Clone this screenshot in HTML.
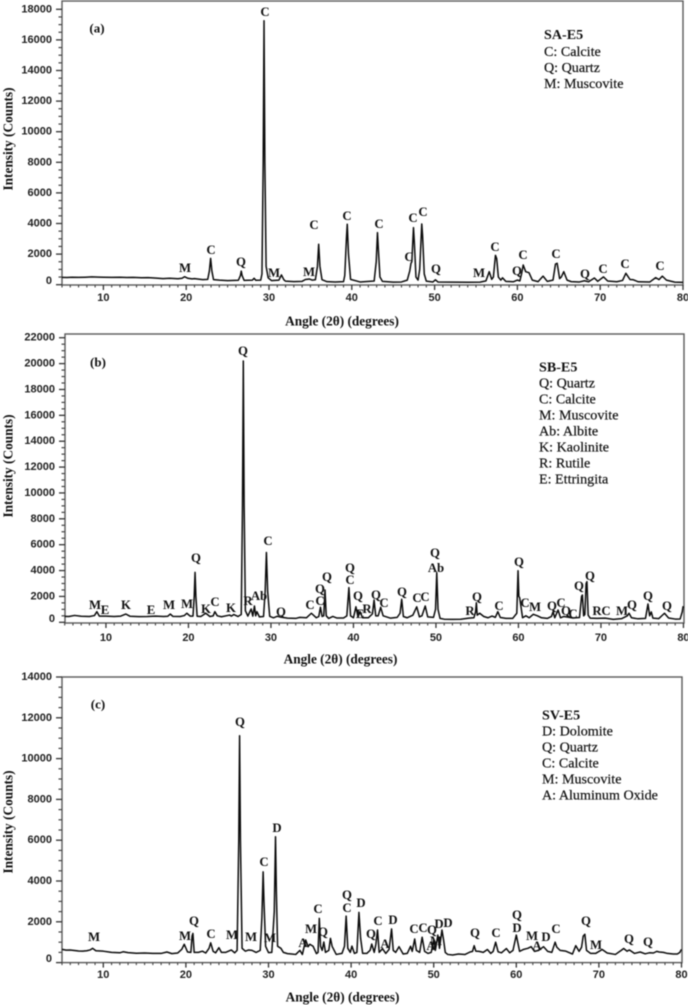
<!DOCTYPE html>
<html lang="en">
<head>
<meta charset="utf-8">
<title>XRD patterns SA-E5, SB-E5, SV-E5</title>
<style>
html,body{margin:0;padding:0;background:#fff;}
#chart{display:block;width:688px;height:1005px;filter:blur(0.4px);}
.pk{font:bold 12.8px "Liberation Serif",serif;fill:#111;text-anchor:middle;dominant-baseline:central;}
.lg{font:14.1px "Liberation Serif",serif;fill:#111;stroke:#111;stroke-width:.2;dominant-baseline:central;}
.lgt{font:bold 14.1px "Liberation Serif",serif;fill:#111;dominant-baseline:central;}
.pl{font:bold 13px "Liberation Serif",serif;fill:#111;text-anchor:middle;dominant-baseline:central;}
.tick{font:bold 11px "Liberation Sans",sans-serif;fill:#222;dominant-baseline:central;}
.axt{font:bold 13.3px "Liberation Serif",serif;fill:#111;text-anchor:middle;dominant-baseline:central;}
</style>
</head>
<body>
<svg id="chart" xmlns="http://www.w3.org/2000/svg" width="688" height="1005" viewBox="0 0 688 1005">
<g id="panel-a"></g>
<g id="panel-b"></g>
<g id="panel-c"></g>

<g>
<text class="pl" x="97" y="28">(a)</text>
<text class="lgt" x="544" y="35">SA-E5</text>
<text class="lg" x="544" y="52">C: Calcite</text>
<text class="lg" x="544" y="68">Q: Quartz</text>
<text class="lg" x="544" y="84">M: Muscovite</text>
<text class="pk" x="185" y="268">M</text>
<text class="pk" x="211" y="250">C</text>
<text class="pk" x="241" y="262">Q</text>
<text class="pk" x="265" y="12">C</text>
<text class="pk" x="274" y="273">M</text>
<text class="pk" x="309" y="272">M</text>
<text class="pk" x="314" y="225">C</text>
<text class="pk" x="347" y="216">C</text>
<text class="pk" x="379" y="224">C</text>
<text class="pk" x="409" y="257">C</text>
<text class="pk" x="413" y="218">C</text>
<text class="pk" x="423" y="212">C</text>
<text class="pk" x="436" y="269">Q</text>
<text class="pk" x="479" y="273">M</text>
<text class="pk" x="495" y="247">C</text>
<text class="pk" x="517" y="271">Q</text>
<text class="pk" x="523" y="255">C</text>
<text class="pk" x="556" y="254">C</text>
<text class="pk" x="585" y="274">Q</text>
<text class="pk" x="603" y="269">C</text>
<text class="pk" x="625" y="264">C</text>
<text class="pk" x="660" y="266">C</text>
</g>

<g>
<text class="pl" x="98" y="362">(b)</text>
<text class="lgt" x="539" y="367.5">SB-E5</text>
<text class="lg" x="539" y="383.5">Q: Quartz</text>
<text class="lg" x="539" y="399.5">C: Calcite</text>
<text class="lg" x="539" y="415.5">M: Muscovite</text>
<text class="lg" x="539" y="431.5">Ab: Albite</text>
<text class="lg" x="539" y="447.5">K: Kaolinite</text>
<text class="lg" x="539" y="463.5">R: Rutile</text>
<text class="lg" x="539" y="479.5">E: Ettringita</text>
<text class="pk" x="95" y="605">M</text>
<text class="pk" x="105" y="610">E</text>
<text class="pk" x="126" y="605">K</text>
<text class="pk" x="151" y="610">E</text>
<text class="pk" x="169" y="605">M</text>
<text class="pk" x="187" y="604">M</text>
<text class="pk" x="196" y="558">Q</text>
<text class="pk" x="206" y="609">K</text>
<text class="pk" x="215" y="602">C</text>
<text class="pk" x="231" y="608">K</text>
<text class="pk" x="243" y="351">Q</text>
<text class="pk" x="248" y="601">R</text>
<text class="pk" x="259" y="596">Ab</text>
<text class="pk" x="268" y="541">C</text>
<text class="pk" x="281" y="612">Q</text>
<text class="pk" x="310" y="605">C</text>
<text class="pk" x="320" y="589">Q</text>
<text class="pk" x="320" y="601">C</text>
<text class="pk" x="327" y="577">Q</text>
<text class="pk" x="350" y="568">Q</text>
<text class="pk" x="350" y="580">C</text>
<text class="pk" x="358" y="596">Q</text>
<text class="pk" x="360" y="614">E</text>
<text class="pk" x="367" y="609">R</text>
<text class="pk" x="376" y="595">Q</text>
<text class="pk" x="384" y="603">C</text>
<text class="pk" x="402" y="592">Q</text>
<text class="pk" x="417" y="598">C</text>
<text class="pk" x="425" y="597">C</text>
<text class="pk" x="435" y="553">Q</text>
<text class="pk" x="436" y="568">Ab</text>
<text class="pk" x="470" y="611">R</text>
<text class="pk" x="477" y="597">Q</text>
<text class="pk" x="499" y="606">C</text>
<text class="pk" x="519" y="562">Q</text>
<text class="pk" x="525" y="603">C</text>
<text class="pk" x="535" y="607">M</text>
<text class="pk" x="552" y="606">Q</text>
<text class="pk" x="561" y="603">C</text>
<text class="pk" x="566" y="611">Q</text>
<text class="pk" x="573" y="614">C</text>
<text class="pk" x="579" y="586">Q</text>
<text class="pk" x="590" y="576">Q</text>
<text class="pk" x="597" y="611">R</text>
<text class="pk" x="606" y="611">C</text>
<text class="pk" x="622" y="611">M</text>
<text class="pk" x="632" y="605">Q</text>
<text class="pk" x="648" y="596">Q</text>
<text class="pk" x="667" y="606">Q</text>
</g>

<g>
<text class="pl" x="98" y="704">(c)</text>
<text class="lgt" x="542" y="715.5">SV-E5</text>
<text class="lg" x="542" y="731.5">D: Dolomite</text>
<text class="lg" x="542" y="747.5">Q: Quartz</text>
<text class="lg" x="542" y="763.5">C: Calcite</text>
<text class="lg" x="542" y="779.5">M: Muscovite</text>
<text class="lg" x="542" y="795.5">A: Aluminum Oxide</text>
<text class="pk" x="94" y="937">M</text>
<text class="pk" x="185" y="936">M</text>
<text class="pk" x="194" y="921">Q</text>
<text class="pk" x="211" y="934">C</text>
<text class="pk" x="232" y="935">M</text>
<text class="pk" x="240" y="722">Q</text>
<text class="pk" x="251" y="937">M</text>
<text class="pk" x="264" y="862">C</text>
<text class="pk" x="270" y="938">M</text>
<text class="pk" x="277" y="828">D</text>
<text class="pk" x="303" y="943">A</text>
<text class="pk" x="311" y="929">M</text>
<text class="pk" x="318" y="909">C</text>
<text class="pk" x="323" y="932">Q</text>
<text class="pk" x="347" y="895">Q</text>
<text class="pk" x="347" y="908">C</text>
<text class="pk" x="361" y="903">D</text>
<text class="pk" x="371" y="934">Q</text>
<text class="pk" x="378" y="921">C</text>
<text class="pk" x="385" y="944">A</text>
<text class="pk" x="393" y="920">D</text>
<text class="pk" x="414" y="929">C</text>
<text class="pk" x="423" y="928">C</text>
<text class="pk" x="432" y="930">Q</text>
<text class="pk" x="431" y="946">A</text>
<text class="pk" x="436" y="941">M</text>
<text class="pk" x="439" y="924">D</text>
<text class="pk" x="448" y="923">D</text>
<text class="pk" x="475" y="933">Q</text>
<text class="pk" x="496" y="933">C</text>
<text class="pk" x="517" y="915">Q</text>
<text class="pk" x="517" y="928">D</text>
<text class="pk" x="532" y="936">M</text>
<text class="pk" x="537" y="946">A</text>
<text class="pk" x="546" y="937">D</text>
<text class="pk" x="556" y="929">C</text>
<text class="pk" x="586" y="921">Q</text>
<text class="pk" x="596" y="945">M</text>
<text class="pk" x="629" y="939">Q</text>
<text class="pk" x="648" y="942">Q</text>
</g>
</svg>

<script>
const xTickLabels = [10, 20, 30, 40, 50, 60, 70, 80];
const xMinorTicks = [5,6,7,8,9,11,12,13,14,15,16,17,18,19,21,22,23,24,25,26,27,28,29,31,32,33,34,35,36,37,38,39,41,42,43,44,45,46,47,48,49,51,52,53,54,55,56,57,58,59,61,62,63,64,65,66,67,68,69,71,72,73,74,75,76,77,78,79];
const yTicksA = [0,2000,4000,6000,8000,10000,12000,14000,16000,18000];
const yTicksB = [0,2000,4000,6000,8000,10000,12000,14000,16000,18000,20000,22000];
const yTicksC = [0,2000,4000,6000,8000,10000,12000,14000];

const anglesA = [
5,5.6,6.2,7,7.8,8.6,9.4,10,
11,12,12.8,13.6,14.6,15.4,16.4,17.2,
18,19,19.5,19.8,20.2,20.7,21,22,
22.6,22.8,22.95,23.1,23.3,24,25,26.3,
26.55,26.65,26.75,27,28,28.2,28.4,29,
29.15,29.3,29.4,29.5,29.65,29.9,30.3,31.2,
31.5,31.8,32,33,34,34.4,34.9,35.2,
35.6,35.85,36,36.15,36.4,37,38,39,
39.15,39.35,39.45,39.6,39.85,41,42.7,42.95,
43.1,43.2,43.4,43.7,45,46,46.7,47,
47.15,47.25,47.45,47.55,47.75,48,48.2,48.45,
48.55,48.75,49,49.8,50.1,50.4,52,54,
55.5,56.2,56.6,56.9,57.1,57.35,57.5,57.7,
58,58.2,58.6,59.5,60,60.3,60.5,60.7,
61,61.4,61.8,62.5,63.1,63.6,64.3,64.6,
64.8,65.1,65.3,65.6,66,66.5,67.5,68.1,
68.6,69.3,69.7,70.4,70.9,72,72.7,73.1,
73.6,74,74.6,76,76.7,77.1,77.5,78,
79,80];
const countsA = [
480,470,490,480,490,510,495,490,
480,490,470,480,450,460,430,400,
420,390,420,520,420,380,400,330,
350,900,1720,900,330,300,270,290,
600,890,600,280,300,420,290,300,
700,8000,17250,8000,1200,450,270,300,
640,320,230,200,220,340,370,300,
320,1200,2640,1200,330,200,180,200,
600,3000,3950,2000,350,180,240,1500,
3400,2400,500,220,170,180,300,900,
1400,1500,3730,2800,500,300,1000,3970,
3200,700,230,180,320,180,170,160,
170,250,850,350,500,1920,1700,500,
300,450,220,190,300,250,700,1290,
850,785,300,200,560,220,300,1350,
1400,400,500,850,300,200,180,260,
190,440,220,510,240,190,280,745,
340,320,190,180,465,330,560,300,
170,150];

const anglesB = [
5,5.5,6.2,7,8,8.6,8.9,9.2,
10,11,11.8,12.4,12.9,14,15,16,
17,17.5,17.8,18.1,19,19.5,19.8,20.2,
20.55,20.7,20.8,20.9,21.05,21.5,22.1,22.6,
23,23.2,23.5,24,25,25.2,25.5,26,
26.4,26.55,26.65,26.75,26.9,27.2,27.6,27.8,
28,28.15,28.3,28.6,29.1,29.3,29.45,29.6,
29.85,30.3,30.8,31.2,32,33,33.5,34.3,
34.9,35.5,35.8,36,36.2,36.4,36.55,36.7,
37,37.5,38,38.8,39.2,39.45,39.65,40,
40.3,40.55,40.8,41.1,41.8,42.3,42.5,42.7,
43,43.3,43.6,44.5,45.3,45.65,45.85,46.05,
46.5,47.2,47.67,48,48.3,48.7,49,49.7,
49.95,50.1,50.25,50.5,51,52,53,54,
54.6,54.8,54.9,55,55.3,55.8,56.3,56.8,
57.2,57.5,57.8,58.5,59.3,59.8,59.95,60.05,
60.15,60.5,60.9,61.3,61.8,62.3,62.8,63.5,
64,64.2,64.4,64.8,65.1,65.5,66,66.6,
67.4,67.65,67.75,67.9,68.05,68.2,68.3,68.45,
68.7,69.5,70.5,71.5,72.5,73.2,73.4,73.7,
74.5,75.4,75.7,75.9,76.1,76.3,77,77.7,
78.2,79,79.6,79.85,79.95,80];
const countsB = [
460,450,530,470,450,520,820,480,
480,450,480,640,470,440,450,480,
450,470,640,460,450,520,700,480,
480,2000,3860,2000,470,450,700,450,
500,820,500,430,560,480,600,450,
600,9000,20200,9000,900,480,1030,480,
1260,500,820,420,450,2400,5400,2400,
460,350,470,400,320,300,380,350,
700,350,450,1160,450,500,2500,500,
300,450,330,330,500,2680,500,350,
1200,400,820,350,350,650,1720,500,
500,1160,500,320,380,700,1780,450,
350,550,1200,420,500,1260,420,380,
1000,3830,1000,300,240,230,240,320,
350,800,1510,550,700,450,350,480,
380,820,370,300,300,700,3990,2000,
1900,350,500,350,620,500,350,300,
450,820,350,950,350,450,400,330,
370,2000,2110,500,600,3000,3140,550,
320,300,320,230,280,500,700,350,
270,300,1415,500,800,320,280,700,
330,250,260,800,1200,1100];

const anglesC = [
5,5.5,6,7,7.5,8,8.4,8.7,
9.1,10,11,12,12.4,13,14,15,
16,17,17.7,18.3,19,19.5,19.8,20.2,
20.6,20.75,20.85,21,21.5,22,22.4,22.8,
23,23.3,23.6,24,24.3,24.8,25.5,25.9,
26.2,26.4,26.5,26.6,26.8,27.2,27.6,28,
28.5,29,29.2,29.35,29.45,29.65,30,30.4,
30.7,30.85,30.95,31.1,31.5,31.8,32.3,32.8,
33.3,33.8,34.1,34.5,34.8,35,35.4,35.8,
36,36.15,36.3,36.5,36.7,36.9,37.3,37.5,
37.7,38.2,38.9,39.2,39.4,39.6,39.9,40.1,
40.4,40.7,40.95,41.15,41.4,41.9,42.3,42.5,
42.8,43,43.2,43.4,43.8,44.2,44.6,44.9,
45.1,45.4,45.8,46.3,46.8,47.2,47.4,47.7,
47.9,48.3,48.6,48.9,49.3,49.7,50,50.2,
50.5,50.7,51,51.2,51.4,51.7,52.3,53,
53.8,54.4,54.7,54.9,55.1,55.5,56,56.5,
56.9,57.2,57.5,57.8,58.2,58.8,59.2,59.6,
60,60.4,60.9,61.4,61.8,62.2,62.7,63.3,
63.8,64.3,64.7,64.9,65.3,66,66.8,67.2,
67.6,67.9,68.1,68.3,68.5,69,69.6,70.4,
71,72,72.7,73,73.4,73.7,74.3,75,
75.6,76.1,76.6,77,77.3,77.8,78.3,79,
79.5,79.8,79.95,80];
const countsC = [
650,610,620,570,560,580,620,700,
580,560,500,480,530,490,460,470,
450,450,520,440,470,650,900,520,
500,1300,1430,500,500,560,470,700,
970,550,480,730,500,500,620,480,
600,6000,11120,6000,700,560,620,600,
500,600,2200,4450,3000,800,490,500,
2500,6170,3500,800,700,500,440,420,
400,600,400,1110,780,900,800,440,
500,2170,800,600,1010,500,600,1190,
800,400,450,800,2280,700,500,810,
450,500,2460,1200,450,450,600,910,
500,900,1600,500,680,450,650,1650,
600,500,780,420,450,800,550,1155,
600,500,1240,550,450,500,1110,600,
1350,700,1600,1100,500,400,370,420,
400,520,550,830,560,550,500,640,
450,550,1000,530,480,690,480,600,
1350,550,650,700,780,550,600,780,
550,500,1000,760,600,560,420,830,
550,750,1300,1390,600,450,450,640,
470,400,600,690,560,620,450,520,
430,480,470,550,520,500,450,420,
420,500,620,600];

const SVG_NS = 'http://www.w3.org/2000/svg';

function make(parent, tag, attrs, text) {
  const el = document.createElementNS(SVG_NS, tag);
  for (const k in attrs) el.setAttribute(k, attrs[k]);
  if (text !== undefined) el.textContent = text;
  parent.appendChild(el);
  return el;
}

function drawPanel(id, g, angles, counts, yTicks) {
  const root = document.getElementById(id);
  const xAxis = function (a) { return g.x5 + (a - 5) * g.pxPerDeg; };
  const yAxis = function (c) { return g.y0 - c * g.pxPerCount; };

  const frame = make(root, 'rect', { x: g.left, y: g.top, width: g.right - g.left, height: g.bottom - g.top, fill: 'none', stroke: '#5a5a5a', 'stroke-width': 1.4 });
  
  

  for (const t of yTicks) {
    const y = yAxis(t);
    const tick = make(root, 'line', { x1: g.left - 6, x2: g.left, y1: y, y2: y, stroke: '#333', 'stroke-width': 1.3 });
    
    
    const lab = make(root, 'text', { class: 'tick', x: g.left - 10, y: t === 0 ? y - 3.5 : y, 'text-anchor': 'end' }, String(t));
    
    
  }
  const yTop = yTicks[yTicks.length - 1];
  for (let i = 0; i < yTicks.length; i++) {
    const base = yTicks[i];
    for (const step of [500, 1000, 1500]) {
      if (base + step > yTop) continue;
      const y = yAxis(base + step);
      const m = make(root, 'line', { x1: g.left - 3.5, x2: g.left, y1: y, y2: y, stroke: '#444', 'stroke-width': 1.2 });
      
      
    }
  }
  for (const t of xTickLabels) {
    const x = xAxis(t);
    const tick = make(root, 'line', { x1: x, x2: x, y1: g.bottom, y2: g.bottom + 5, stroke: '#333', 'stroke-width': 1.3 });
    
    
    const lab = make(root, 'text', { class: 'tick', x: x, y: g.xLabelY, 'text-anchor': 'middle' }, String(t));
    
    
  }
  for (const t of xMinorTicks) {
    const x = xAxis(t);
    const m = make(root, 'line', { x1: x, x2: x, y1: g.bottom, y2: g.bottom + 2.5, stroke: '#444', 'stroke-width': 1.1 });
    
    
  }

  const xTitle = make(root, 'text', { class: 'axt', x: g.xTitleX, y: g.xTitleY }, 'Angle (2θ) (degrees)');
  
  
  const yTitle = make(root, 'text', { class: 'axt', x: 8, y: g.yTitleY, transform: 'rotate(-90 8 ' + g.yTitleY + ')' }, 'Intensity (Counts)');
  
  

  let d = '';
  const n = Math.min(angles.length, counts.length);
  for (let i = 0; i < n; i++) {
    d += (i ? 'L' : 'M') + xAxis(angles[i]).toFixed(2) + ' ' + yAxis(counts[i]).toFixed(2);
  }
  const line = make(root, 'path', { d: d, fill: 'none', stroke: '#0c0c0c', 'stroke-width': 1.5, 'stroke-linejoin': 'round' });
  
  
}

drawPanel('panel-a',
  { left: 62, right: 683, top: 1, bottom: 285, x5: 62, pxPerDeg: 8.28, y0: 284.7, pxPerCount: 30.6 / 2000, xLabelY: 298, xTitleX: 342, xTitleY: 321, yTitleY: 139 },
  anglesA, countsA, yTicksA);
drawPanel('panel-b',
  { left: 65, right: 684, top: 334, bottom: 623, x5: 64.7, pxPerDeg: 8.25, y0: 622.3, pxPerCount: 25.87 / 2000, xLabelY: 638, xTitleX: 340.5, xTitleY: 659, yTitleY: 466 },
  anglesB, countsB, yTicksB);
drawPanel('panel-c',
  { left: 62, right: 682, top: 677, bottom: 962.6, x5: 62, pxPerDeg: 8.26, y0: 962.6, pxPerCount: 40.8 / 2000, xLabelY: 975, xTitleX: 342.5, xTitleY: 997, yTitleY: 822 },
  anglesC, countsC, yTicksC);
</script>
</body>
</html>
